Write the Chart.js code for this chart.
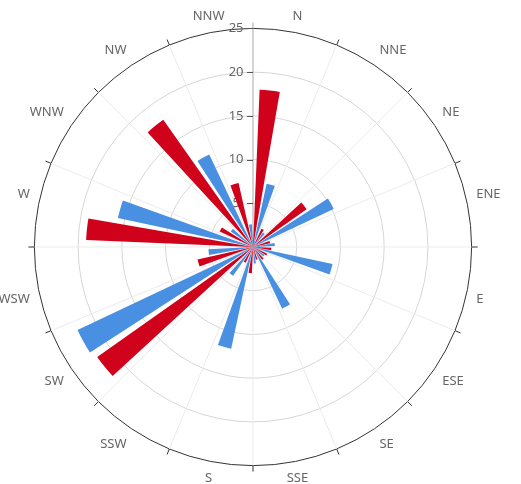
<!DOCTYPE html>
<html>
<head>
<meta charset="utf-8">
<script src="https://cdn.jsdelivr.net/npm/chart.js@4/dist/chart.umd.min.js"></script>
<style>
html,body{margin:0;padding:0;background:#fff;overflow:hidden;width:521px;height:484px}
#wrap{position:absolute;left:-17px;top:8px;width:540px;height:479px}
</style>
</head>
<body>
<div id="wrap"><canvas id="rose"></canvas></div>
<script>
// wind directions, clockwise from north
let dirs=['N','NNE','NE','ENE','E','ESE','SE','SSE','S','SSW','SW','WSW','W','WNW','NW','NNW']
let redVals=[18.0,2.3,7.5,2.0,2.1,1.8,1.8,1.5,3.0,2.0,21.8,6.5,19.1,4.2,17.8,7.5]
let blueVals=[7.4,2.0,10.2,2.5,9.3,1.6,7.8,1.9,11.9,4.0,22.2,5.1,15.8,3.1,11.7,2.6]
let radialTicks=[0,5,10,15,20,25]

// each direction sector (22.5deg) is cut in: gap, red bar, gap, blue bar, gap
let slotAngles=[2.4,7.4,2.3,7.6,2.8]
// labels close to the vertical are centred, like the original
let centredLabels=[0,7,8,15]

let redData=[]
let blueData=[]
for(let i=0;i<dirs.length;i++){
    redData.push(0,redVals[i],0,0,0)
    blueData.push(0,0,0,blueVals[i],0)
}

Chart.defaults.font.family='"Noto Sans", sans-serif'
const labelColor='#666'

const axisMarks={
    id:'axisMarks',
    beforeDatasetsDraw(chart){
        const r=chart.scales.r
        const ctx=chart.ctx
        const R=r.drawingArea
        ctx.save()
        ctx.lineWidth=1
        // small ticks outside the outer circle
        for(let i=0;i<dirs.length;i++){
            const a=r.getIndexAngle(i)-Math.PI/2
            ctx.strokeStyle=i==0?'#aaa':'#333'
            ctx.beginPath()
            ctx.moveTo(r.xCenter+Math.cos(a)*R,r.yCenter+Math.sin(a)*R)
            ctx.lineTo(r.xCenter+Math.cos(a)*(R+6),r.yCenter+Math.sin(a)*(R+6))
            ctx.stroke()
        }
        // tick marks on the radial axis
        ctx.strokeStyle='#555'
        r.ticks.forEach(t=>{
            if(t.value==0)return
            const y=Math.round(r.yCenter-r.getDistanceFromCenterForValue(t.value))+0.5
            ctx.beginPath()
            ctx.moveTo(r.xCenter-6,y)
            ctx.lineTo(r.xCenter,y)
            ctx.stroke()
        })
        // centred direction labels at top and bottom
        ctx.fillStyle=labelColor
        ctx.font='13px "Noto Sans", sans-serif'
        ctx.textAlign='center'
        ctx.textBaseline='middle'
        centredLabels.forEach(i=>{
            const p=r.getPointPosition(i,R+9,Math.PI/dirs.length)
            const dy=p.y<r.yCenter?-7.8:7.8
            ctx.fillText(dirs[i],p.x,p.y+dy)
        })
        ctx.restore()
    }
}

let rose=new Chart(document.getElementById('rose').getContext('2d'),{
    type:'polarArea',
    data:{
        labels:dirs,
        datasets:[{
            label:'red',
            data:redData,
            backgroundColor:'#d0021b',
            borderWidth:0,
            angle:ctx=>slotAngles[ctx.dataIndex%5]
        },{
            label:'blue',
            data:blueData,
            backgroundColor:'#4a90e2',
            borderWidth:0,
            angle:ctx=>slotAngles[ctx.dataIndex%5]
        }]
    },
    options:{
        responsive:true,
        maintainAspectRatio:false,
        animation:false,
        plugins:{legend:{display:false},tooltip:{enabled:false}},
        scales:{
            r:{
                min:0,
                max:25,
                startAngle:0,
                afterBuildTicks:scale=>{scale.ticks=radialTicks.map(v=>({value:v}))},
                ticks:{
                    showLabelBackdrop:false,
                    color:'#666',
                    font:{size:13},
                    callback:v=>v==0?'':v+'          '
                },
                grid:{
                    circular:true,
                    color:ctx=>ctx.tick&&ctx.tick.value==25?'#333':'#d6d6d6',
                    lineWidth:1
                },
                angleLines:{
                    display:true,
                    color:ctx=>ctx.index==0?'#aaa':'#ebebeb'
                },
                pointLabels:{
                    display:true,
                    centerPointLabels:true,
                    color:ctx=>centredLabels.includes(ctx.index)?'rgba(0,0,0,0)':labelColor,
                    font:{size:13},
                    padding:0.5
                }
            }
        }
    },
    plugins:[axisMarks]
});
</script>
</body>
</html>
